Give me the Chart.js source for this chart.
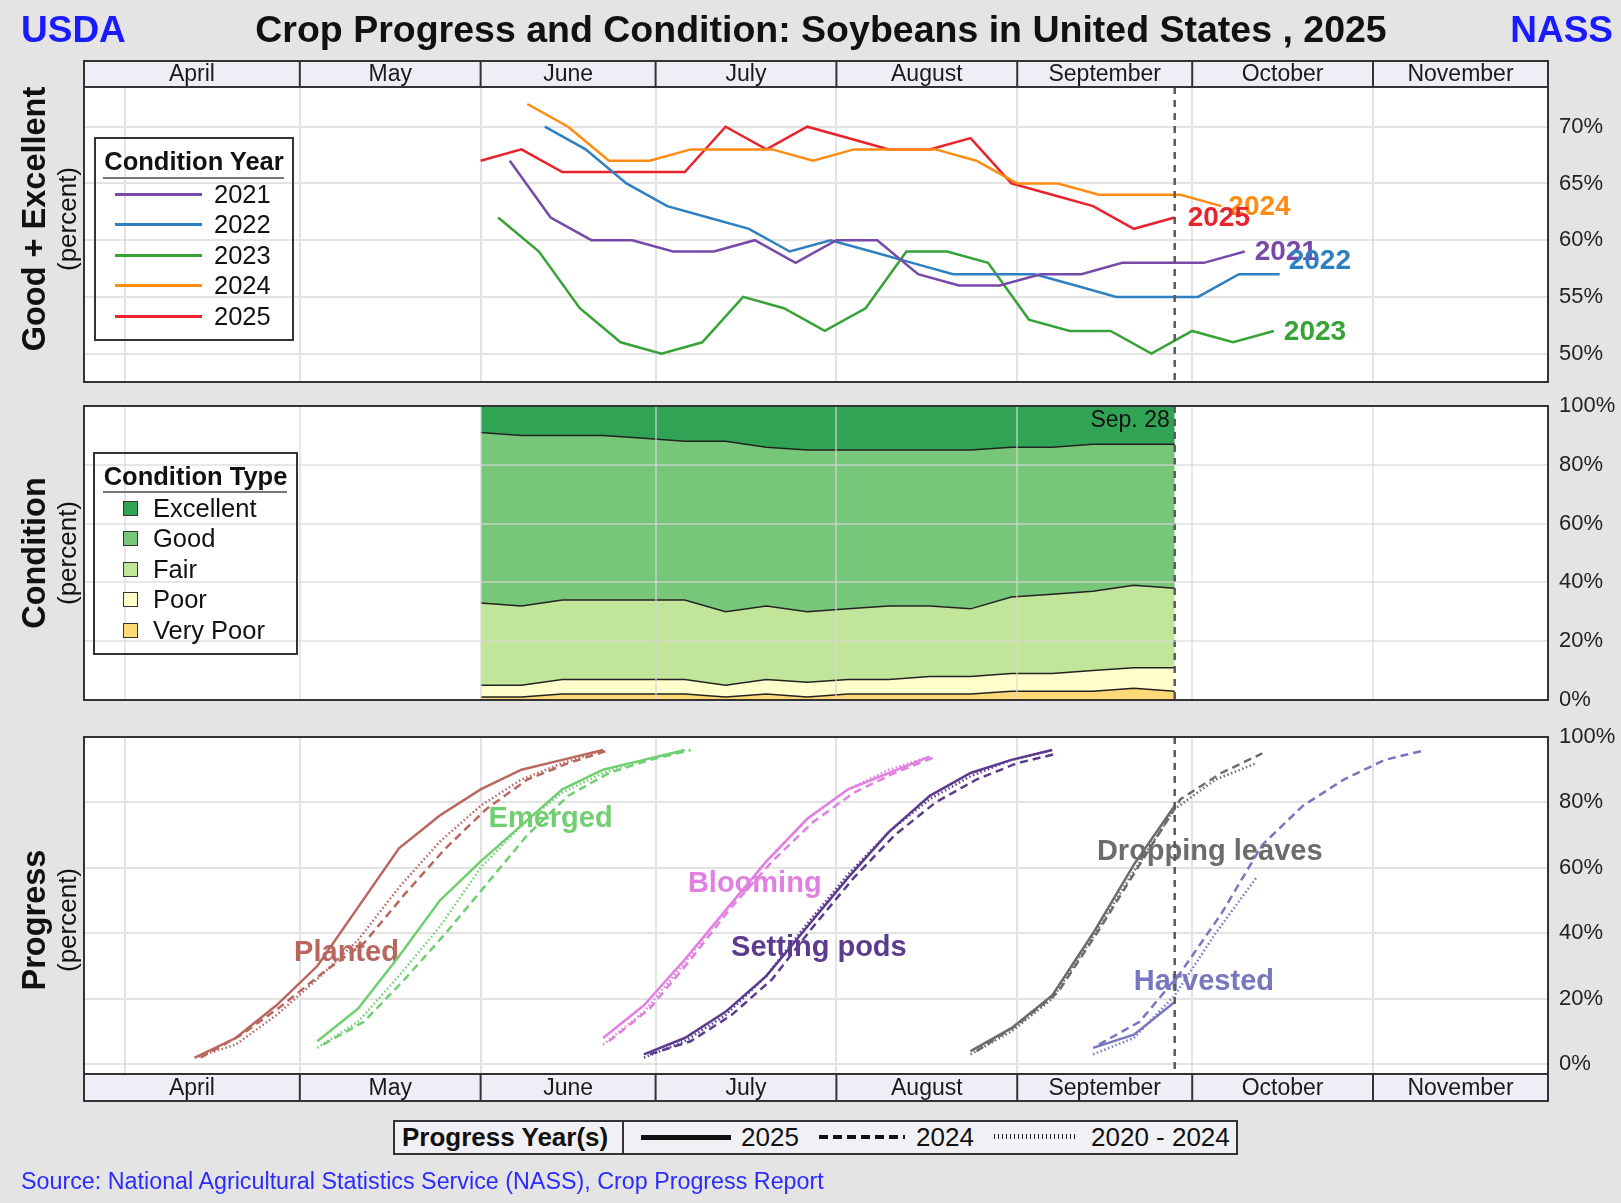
<!DOCTYPE html>
<html>
<head>
<meta charset="utf-8">
<title>Crop Progress and Condition: Soybeans in United States, 2025</title>
<script src="https://cdn.jsdelivr.net/npm/chart.js@4.4.1/dist/chart.umd.min.js"></script>
<style>
  body { margin: 0; background: #e4e4e4; }
  #page { position: relative; width: 1621px; height: 1203px; overflow: hidden;
          font-family: "Liberation Sans", Arial, sans-serif; color: #111; }
  #page canvas { position: absolute; left: 0; top: 0; }
  .txt { position: absolute; white-space: nowrap; line-height: 1; }
  .rot { position: absolute; white-space: nowrap; line-height: 1;
         transform: translate(-50%, -50%) rotate(-90deg); }
  .box { position: absolute; border: 2px solid #333; box-sizing: border-box; }
  .hr { position: absolute; height: 0; border-top: 2px solid #777; }
  .swatch { position: absolute; width: 15px; height: 15px; border: 1.5px solid #333; box-sizing: border-box; }
</style>
</head>
<body>
<div id="page">
  <canvas id="geChart" width="1621" height="1203"></canvas>
  <canvas id="condChart" width="1621" height="1203"></canvas>
  <canvas id="progChart" width="1621" height="1203"></canvas>

  <div class="txt" style="left:21px; top:11px; font-size:37px; font-weight:bold; color:#1a1aff;">USDA</div>
  <div class="txt" style="left:821px; top:11px; transform:translateX(-50%); font-size:37.5px; font-weight:bold;">Crop Progress and Condition: Soybeans in United States , 2025</div>
  <div class="txt" style="right:8px; top:11px; font-size:37px; font-weight:bold; color:#1a1aff;">NASS</div>

  <div class="rot" style="left:34px; top:219px; font-size:32.5px; font-weight:bold;">Good + Excellent</div>
  <div class="rot" style="left:67px; top:219px; font-size:26px;">(percent)</div>
  <div class="rot" style="left:34px; top:553px; font-size:32.5px; font-weight:bold;">Condition</div>
  <div class="rot" style="left:67px; top:553px; font-size:26px;">(percent)</div>
  <div class="rot" style="left:34px; top:920px; font-size:32.5px; font-weight:bold;">Progress</div>
  <div class="rot" style="left:67px; top:920px; font-size:26px;">(percent)</div>

  <div class="txt" style="left:21px; top:1170px; font-size:23.3px; color:#2b2bff;">Source: National Agricultural Statistics Service (NASS), Crop Progress Report</div>
</div>

<script>
// ---------------- data ----------------
const axisStart = '03-25';
const axisEnd = '12-01';
const gridMonths = ['04-01', '05-01', '06-01', '07-01', '08-01', '09-01', '10-01', '11-01'];
const monthStarts = ['04-01', '05-01', '06-01', '07-01', '08-01', '09-01', '10-01', '11-01', '12-01'];
const monthNames = ['April', 'May', 'June', 'July', 'August', 'September', 'October', 'November'];
const currentWeek = '09-28';
const currentWeekLabel = 'Sep. 28';

const geTicks = [50, 55, 60, 65, 70];
const pctTicks = [0, 20, 40, 60, 80, 100];

// good + excellent by year (week ending dates)
const ge2021Weeks = ['06-06', '06-13', '06-20', '06-27', '07-04', '07-11', '07-18', '07-25', '08-01', '08-08',
                     '08-15', '08-22', '08-29', '09-05', '09-12', '09-19', '09-26', '10-03', '10-10'];
const ge2021 = [67, 62, 60, 60, 59, 59, 60, 58, 60, 60, 57, 56, 56, 57, 57, 58, 58, 58, 59];

const ge2022Weeks = ['06-12', '06-19', '06-26', '07-03', '07-10', '07-17', '07-24', '07-31', '08-07', '08-14',
                     '08-21', '08-28', '09-04', '09-11', '09-18', '09-25', '10-02', '10-09', '10-16'];
const ge2022 = [70, 68, 65, 63, 62, 61, 59, 60, 59, 58, 57, 57, 57, 56, 55, 55, 55, 57, 57];

const ge2023Weeks = ['06-04', '06-11', '06-18', '06-25', '07-02', '07-09', '07-16', '07-23', '07-30', '08-06',
                     '08-13', '08-20', '08-27', '09-03', '09-10', '09-17', '09-24', '10-01', '10-08', '10-15'];
const ge2023 = [62, 59, 54, 51, 50, 51, 55, 54, 52, 54, 59, 59, 58, 53, 52, 52, 50, 52, 51, 52];

const ge2024Weeks = ['06-09', '06-16', '06-23', '06-30', '07-07', '07-14', '07-21', '07-28', '08-04', '08-11',
                     '08-18', '08-25', '09-01', '09-08', '09-15', '09-22', '09-29', '10-06'];
const ge2024 = [72, 70, 67, 67, 68, 68, 68, 67, 68, 68, 68, 67, 65, 65, 64, 64, 64, 63];

const ge2025Weeks = ['06-01', '06-08', '06-15', '06-22', '06-29', '07-06', '07-13', '07-20', '07-27', '08-03',
                     '08-10', '08-17', '08-24', '08-31', '09-07', '09-14', '09-21', '09-28'];
const ge2025 = [67, 68, 66, 66, 66, 66, 70, 68, 70, 69, 68, 68, 69, 65, 64, 63, 61, 62];

// 2025 condition by type
const condWeeks = ge2025Weeks;
const veryPoor  = [1, 1, 2, 2, 2, 2, 1, 2, 1, 2, 2, 2, 2, 3, 3, 3, 4, 3];
const poor      = [4, 4, 5, 5, 5, 5, 4, 5, 5, 5, 5, 6, 6, 6, 6, 7, 7, 8];
const fair      = [28, 27, 27, 27, 27, 27, 25, 25, 24, 24, 25, 24, 23, 26, 27, 27, 28, 27];
const good      = [58, 58, 56, 56, 55, 54, 58, 54, 55, 54, 53, 53, 54, 51, 50, 50, 48, 49];
const excellent = [9, 10, 10, 10, 11, 12, 12, 14, 15, 15, 15, 15, 15, 14, 14, 13, 13, 13];

// progress: 2025, 2024 and 2020-2024 average
const plantedWeeks25 = ['04-13', '04-20', '04-27', '05-04', '05-11', '05-18', '05-25', '06-01', '06-08', '06-15', '06-22'];
const plantedWeeks24 = ['04-14', '04-21', '04-28', '05-05', '05-12', '05-19', '05-26', '06-02', '06-09', '06-16', '06-23'];
const planted25  = [2, 8, 18, 30, 48, 66, 76, 84, 90, 93, 96];
const planted24  = [2, 9, 18, 28, 37, 52, 66, 78, 87, 92, 96];
const plantedAvg = [2, 6, 15, 26, 38, 54, 68, 79, 87, 92, 96];

const emergedWeeks25 = ['05-04', '05-11', '05-18', '05-25', '06-01', '06-08', '06-15', '06-22', '06-29', '07-06'];
const emergedWeeks24 = ['05-05', '05-12', '05-19', '05-26', '06-02', '06-09', '06-16', '06-23', '06-30', '07-07'];
const emerged25  = [7, 17, 33, 50, 62, 73, 84, 90, 93, 96];
const emerged24  = [6, 13, 26, 40, 55, 70, 82, 89, 93, 96];
const emergedAvg = [5, 13, 27, 42, 60, 73, 83, 89, 93, 96];

const bloomingWeeks25 = ['06-22', '06-29', '07-06', '07-13', '07-20', '07-27', '08-03', '08-10', '08-17'];
const bloomingWeeks24 = ['06-23', '06-30', '07-07', '07-14', '07-21', '07-28', '08-04', '08-11', '08-18'];
const blooming25  = [8, 18, 32, 47, 62, 75, 84, 89, 94];
const blooming24  = [7, 17, 32, 48, 62, 74, 83, 89, 94];
const bloomingAvg = [6, 16, 31, 47, 62, 75, 84, 90, 94];

const podsWeeks25 = ['06-29', '07-06', '07-13', '07-20', '07-27', '08-03', '08-10', '08-17', '08-24', '08-31', '09-07'];
const podsWeeks24 = ['06-30', '07-07', '07-14', '07-21', '07-28', '08-04', '08-11', '08-18', '08-25', '09-01', '09-08'];
const pods25  = [3, 8, 16, 27, 42, 57, 71, 82, 89, 93, 96];
const pods24  = [3, 7, 15, 26, 42, 57, 70, 80, 87, 92, 95];
const podsAvg = [2, 7, 15, 27, 43, 58, 71, 81, 88, 93, 96];

const droppingWeeks25  = ['08-24', '08-31', '09-07', '09-14', '09-21', '09-28'];
const droppingWeeks24  = ['08-25', '09-01', '09-08', '09-15', '09-22', '09-29', '10-06', '10-13'];
const droppingWeeksAvg = ['08-24', '08-31', '09-07', '09-14', '09-21', '09-28', '10-05', '10-12'];
const dropping25  = [4, 11, 21, 40, 61, 79];
const dropping24  = [4, 12, 22, 41, 61, 81, 89, 95];
const droppingAvg = [3, 10, 20, 39, 59, 78, 87, 92];

const harvestedWeeks25  = ['09-14', '09-21', '09-28'];
const harvestedWeeks24  = ['09-15', '09-22', '09-29', '10-06', '10-13', '10-20', '10-27', '11-03', '11-10'];
const harvestedWeeksAvg = ['09-14', '09-21', '09-28', '10-05', '10-12'];
const harvested25  = [5, 9, 19];
const harvested24  = [6, 13, 28, 46, 67, 79, 87, 93, 96];
const harvestedAvg = [3, 8, 21, 40, 57];

// ---------------- helpers ----------------
const FONT = '"Liberation Sans", Arial, sans-serif';
Chart.defaults.font.family = FONT;
Chart.defaults.color = '#222';

const cumDays = [0, 31, 59, 90, 120, 151, 181, 212, 243, 273, 304, 334];
function doy(md) {
  const [m, d] = md.split('-').map(Number);
  return cumDays[m - 1] + d;
}
function pts(weeks, values) {
  return values.map((v, i) => ({ x: doy(weeks[i]), y: v }));
}

function xAxis(gridColor, z) {
  return {
    type: 'linear',
    min: doy(axisStart),
    max: doy(axisEnd),
    grid: { color: gridColor, lineWidth: 2, drawTicks: false, tickLength: 0, z: z },
    border: { display: false },
    ticks: { display: false },
    afterBuildTicks: s => { s.ticks = gridMonths.map(m => ({ value: doy(m) })); },
    afterFit: s => { s.height = 0; }
  };
}

function yAxis(min, max, ticks, gridColor, z, stacked) {
  return {
    position: 'right',
    min: min,
    max: max,
    stacked: !!stacked,
    grid: { color: gridColor, lineWidth: 2, drawTicks: false, tickLength: 0, z: z },
    border: { display: false },
    ticks: { font: { size: 22 }, color: '#222', padding: 11, callback: v => v + '%' },
    afterBuildTicks: s => { s.ticks = ticks.map(v => ({ value: v })); },
    afterFit: s => { s.width = 73; }
  };
}

// white plot area, month header band, frame and current-week line
const framePlugin = {
  id: 'frame',
  beforeDraw(chart) {
    const { ctx, chartArea: a } = chart;
    ctx.save();
    ctx.fillStyle = '#ffffff';
    ctx.fillRect(a.left, a.top, a.width, a.height);
    ctx.restore();
  },
  afterDatasetsDraw(chart, args, o) {
    const { ctx, chartArea: a, scales: { x } } = chart;
    const px = x.getPixelForValue(doy(currentWeek));
    ctx.save();
    ctx.strokeStyle = '#5a5a5a';
    ctx.lineWidth = 2.5;
    ctx.setLineDash([7, 6]);
    ctx.beginPath();
    ctx.moveTo(px, a.top);
    ctx.lineTo(px, a.bottom);
    ctx.stroke();
    ctx.setLineDash([]);
    if (o.weekLabel) {
      ctx.fillStyle = '#111';
      ctx.font = '23px ' + FONT;
      ctx.textAlign = 'right';
      ctx.textBaseline = 'middle';
      ctx.fillText(currentWeekLabel, px - 5, a.top + 15);
    }
    ctx.restore();
  },
  afterDraw(chart, args, o) {
    const { ctx, chartArea: a, scales: { x } } = chart;
    let top = a.top, bottom = a.bottom;
    ctx.save();
    ctx.strokeStyle = '#333';
    ctx.lineWidth = 2;
    if (o.header) {
      const y0 = o.header === 'top' ? a.top - o.band : a.bottom;
      ctx.fillStyle = '#eeeef6';
      ctx.fillRect(a.left, y0, a.width, o.band);
      ctx.font = '23px ' + FONT;
      ctx.textAlign = 'center';
      ctx.textBaseline = 'middle';
      monthNames.forEach((name, i) => {
        // first cell runs from the left edge of the frame
        const s = i === 0 ? a.left : x.getPixelForValue(doy(monthStarts[i]));
        const e = Math.min(x.getPixelForValue(doy(monthStarts[i + 1])), a.right);
        if (i > 0) {
          ctx.beginPath();
          ctx.moveTo(s, y0);
          ctx.lineTo(s, y0 + o.band);
          ctx.stroke();
        }
        ctx.fillStyle = '#1a1a1a';
        ctx.fillText(name, (s + e) / 2, y0 + o.band / 2 + 1);
      });
      const yl = o.header === 'top' ? a.top : a.bottom;
      ctx.beginPath();
      ctx.moveTo(a.left, yl);
      ctx.lineTo(a.right, yl);
      ctx.stroke();
      if (o.header === 'top') top = y0; else bottom = y0 + o.band;
    }
    ctx.strokeRect(a.left, top, a.width, bottom - top);
    ctx.restore();
  }
};

// year labels at the end of each condition line
const endLabelPlugin = {
  id: 'endLabels',
  afterDatasetsDraw(chart) {
    const { ctx } = chart;
    ctx.save();
    ctx.font = 'bold 28px ' + FONT;
    ctx.textAlign = 'left';
    ctx.textBaseline = 'middle';
    chart.data.datasets.forEach((ds, i) => {
      const pts = chart.getDatasetMeta(i).data;
      const last = pts[pts.length - 1];
      ctx.fillStyle = ds.borderColor;
      ctx.fillText(ds.label, last.x + (ds.labelDx || 10), last.y + (ds.labelDy || 0) + 1);
    });
    ctx.restore();
  }
};

// stage names inside the progress panel
const stageLabelPlugin = {
  id: 'stageLabels',
  beforeDatasetsDraw(chart, args, o) {
    const { ctx, scales: { x, y } } = chart;
    ctx.save();
    ctx.font = 'bold 29px ' + FONT;
    ctx.textAlign = 'center';
    ctx.textBaseline = 'middle';
    o.items.forEach(it => {
      ctx.fillStyle = it.color;
      ctx.fillText(it.name, x.getPixelForValue(doy(it.labelDate)), y.getPixelForValue(it.labelValue));
    });
    ctx.restore();
  }
};

const baseOptions = {
  responsive: false,
  animation: false,
  events: [],
  elements: { point: { radius: 0 }, line: { tension: 0 } }
};

// ---------------- chart 1: good + excellent ----------------
const conditionYears = [
  { label: '2021', weeks: ge2021Weeks, values: ge2021, color: '#774aa8', dx: 10, dy: 0 },
  { label: '2022', weeks: ge2022Weeks, values: ge2022, color: '#2f80c1', dx: 9, dy: -14 },
  { label: '2023', weeks: ge2023Weeks, values: ge2023, color: '#37a336', dx: 10, dy: 0 },
  { label: '2024', weeks: ge2024Weeks, values: ge2024, color: '#ff8c12', dx: 7, dy: 0 },
  { label: '2025', weeks: ge2025Weeks, values: ge2025, color: '#e8232b', dx: 13, dy: 0 }
];

new Chart(document.getElementById('geChart'), {
  type: 'line',
  data: {
    datasets: conditionYears.map(c => ({
      label: c.label,
      data: pts(c.weeks, c.values),
      borderColor: c.color,
      borderWidth: 2.5,
      labelDx: c.dx,
      labelDy: c.dy
    }))
  },
  options: Object.assign({}, baseOptions, {
    layout: { padding: { left: 84, right: 0, top: 87, bottom: 1203 - 382 } },
    scales: {
      x: xAxis('#e3e3e3', -1),
      y: yAxis(47.5, 73.5, geTicks, '#e3e3e3', -1)
    },
    plugins: { legend: { display: false }, tooltip: { enabled: false }, frame: { header: 'top', band: 26 } }
  }),
  plugins: [framePlugin, endLabelPlugin]
});

// ---------------- chart 2: condition by type ----------------
const conditionTypes = [
  { label: 'Very Poor', values: veryPoor,  color: '#fed976' },
  { label: 'Poor',      values: poor,      color: '#ffffcc' },
  { label: 'Fair',      values: fair,      color: '#c2e699' },
  { label: 'Good',      values: good,      color: '#78c679' },
  { label: 'Excellent', values: excellent, color: '#31a354' }
];

new Chart(document.getElementById('condChart'), {
  type: 'line',
  data: {
    datasets: conditionTypes.map((c, i) => ({
      label: c.label,
      data: pts(condWeeks, c.values),
      backgroundColor: c.color,
      borderColor: '#222',
      borderWidth: 1.5,
      fill: i === 0 ? 'origin' : '-1'
    }))
  },
  options: Object.assign({}, baseOptions, {
    layout: { padding: { left: 84, right: 0, top: 406, bottom: 1203 - 700 } },
    scales: {
      x: xAxis('rgba(215,215,215,0.6)', 1),
      y: yAxis(0, 100, pctTicks, 'rgba(215,215,215,0.6)', 1, true)
    },
    plugins: { legend: { display: false }, tooltip: { enabled: false }, frame: { header: null, weekLabel: true } }
  }),
  plugins: [framePlugin]
});

// ---------------- chart 3: progress ----------------
const stages = [
  { name: 'Planted', color: '#b9665f', w25: plantedWeeks25, v25: planted25, w24: plantedWeeks24, v24: planted24,
    wAvg: plantedWeeks25, vAvg: plantedAvg, labelDate: '05-09', labelValue: 34 },
  { name: 'Emerged', color: '#70cf70', w25: emergedWeeks25, v25: emerged25, w24: emergedWeeks24, v24: emerged24,
    wAvg: emergedWeeks25, vAvg: emergedAvg, labelDate: '06-13', labelValue: 75 },
  { name: 'Blooming', color: '#e180e1', w25: bloomingWeeks25, v25: blooming25, w24: bloomingWeeks24, v24: blooming24,
    wAvg: bloomingWeeks25, vAvg: bloomingAvg, labelDate: '07-18', labelValue: 55 },
  { name: 'Setting pods', color: '#5c3b8f', w25: podsWeeks25, v25: pods25, w24: podsWeeks24, v24: pods24,
    wAvg: podsWeeks25, vAvg: podsAvg, labelDate: '07-29', labelValue: 35.4 },
  { name: 'Dropping leaves', color: '#6c6c6c', w25: droppingWeeks25, v25: dropping25, w24: droppingWeeks24, v24: dropping24,
    wAvg: droppingWeeksAvg, vAvg: droppingAvg, labelDate: '10-04', labelValue: 65 },
  { name: 'Harvested', color: '#7777c0', w25: harvestedWeeks25, v25: harvested25, w24: harvestedWeeks24, v24: harvested24,
    wAvg: harvestedWeeksAvg, vAvg: harvestedAvg, labelDate: '10-03', labelValue: 25 }
];

const progressSets = [];
stages.forEach(s => {
  progressSets.push({ label: s.name + ' 2025', data: pts(s.w25, s.v25), borderColor: s.color, borderWidth: 2.5 });
  progressSets.push({ label: s.name + ' 2024', data: pts(s.w24, s.v24), borderColor: s.color, borderWidth: 2.5, borderDash: [8, 5] });
  progressSets.push({ label: s.name + ' 2020-2024', data: pts(s.wAvg, s.vAvg), borderColor: s.color, borderWidth: 2.5, borderDash: [1.5, 2.5] });
});

new Chart(document.getElementById('progChart'), {
  type: 'line',
  data: { datasets: progressSets },
  options: Object.assign({}, baseOptions, {
    layout: { padding: { left: 84, right: 0, top: 737, bottom: 1203 - 1074 } },
    scales: {
      x: xAxis('#e3e3e3', -1),
      y: yAxis(-3, 100, pctTicks, '#e3e3e3', -1)
    },
    plugins: {
      legend: { display: false }, tooltip: { enabled: false },
      frame: { header: 'bottom', band: 27 },
      stageLabels: { items: stages }
    }
  }),
  plugins: [framePlugin, stageLabelPlugin]
});

// ---------------- html legends ----------------
const page = document.getElementById('page');
function addEl(cls, style, text) {
  const el = document.createElement('div');
  el.className = cls;
  Object.assign(el.style, style);
  if (text) el.textContent = text;
  page.appendChild(el);
  return el;
}

// Condition Year
addEl('box', { left: '94px', top: '137px', width: '200px', height: '204px' });
addEl('txt', { left: '94px', width: '200px', textAlign: 'center', top: '149px', fontSize: '25.5px', fontWeight: 'bold' }, 'Condition Year');
addEl('hr', { left: '103px', top: '177px', width: '181px' });
conditionYears.forEach((c, i) => {
  const cy = 194 + i * 30.5;
  addEl('', { position: 'absolute', left: '115px', top: (cy - 1.5) + 'px', width: '87px', height: '3px', background: c.color });
  addEl('txt', { left: '214px', top: (cy - 12.5) + 'px', fontSize: '25.5px' }, c.label);
});

// Condition Type
addEl('box', { left: '93px', top: '452px', width: '205px', height: '203px' });
addEl('txt', { left: '93px', width: '205px', textAlign: 'center', top: '464px', fontSize: '25.5px', fontWeight: 'bold' }, 'Condition Type');
addEl('hr', { left: '103px', top: '491px', width: '184px' });
conditionTypes.slice().reverse().forEach((c, i) => {
  const cy = 508 + i * 30.5;
  addEl('swatch', { left: '123px', top: (cy - 7.5) + 'px', background: c.color });
  addEl('txt', { left: '153px', top: (cy - 12.5) + 'px', fontSize: '25.5px' }, c.label);
});

// Progress Year(s)
addEl('box', { left: '393px', top: '1120px', width: '845px', height: '35px', background: '#f1f1f5' });
addEl('txt', { left: '402px', top: '1124px', fontSize: '26px', fontWeight: 'bold' }, 'Progress Year(s)');
addEl('', { position: 'absolute', left: '622px', top: '1120px', width: '2px', height: '35px', background: '#333' });
addEl('', { position: 'absolute', left: '641px', top: '1135px', width: '90px', height: '5px', background: '#111' });
addEl('txt', { left: '741px', top: '1124px', fontSize: '26px' }, '2025');
addEl('', { position: 'absolute', left: '819px', top: '1135px', width: '86px', height: '4px',
            background: 'repeating-linear-gradient(to right, #111 0 9px, transparent 9px 14px)' });
addEl('txt', { left: '916px', top: '1124px', fontSize: '26px' }, '2024');
addEl('', { position: 'absolute', left: '994px', top: '1134px', width: '83px', height: '5px',
            background: 'repeating-linear-gradient(to right, #222 0 1.5px, transparent 1.5px 4px)' });
addEl('txt', { left: '1091px', top: '1124px', fontSize: '26px' }, '2020 - 2024');
</script>
</body>
</html>
